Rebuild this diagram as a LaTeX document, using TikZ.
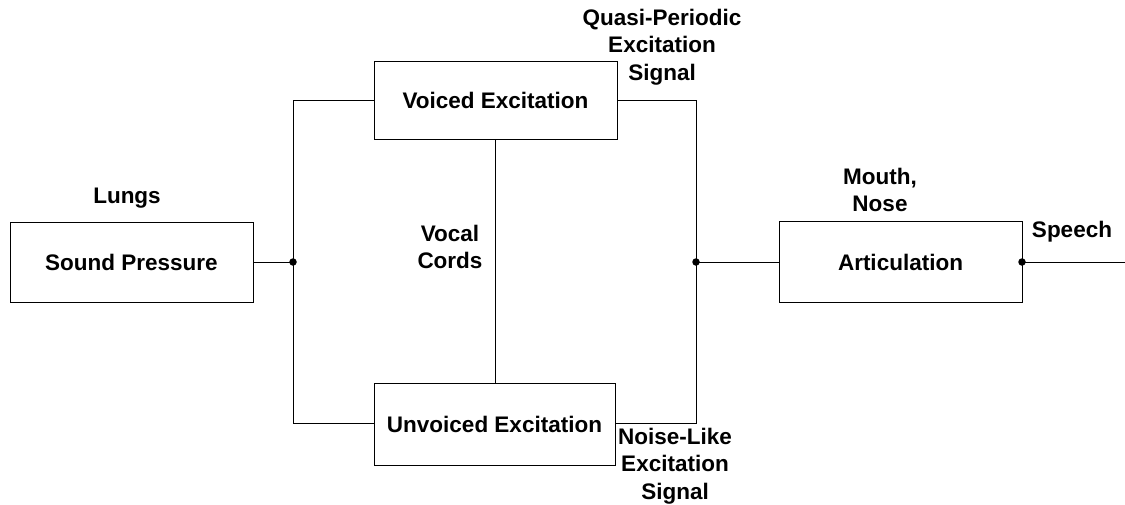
\documentclass[tikz,border=0pt]{standalone}
\usepackage{fontspec}
\setmainfont{Liberation Sans}
\begin{document}
\begin{tikzpicture}[x=1pt,y=-1pt,
  blk/.style={draw, line width=0.9pt, minimum width=243pt, minimum height=80pt, inner sep=0pt, font=\fontsize{22.5}{26}\selectfont\bfseries},
  lbl/.style={align=center, inner sep=0pt, font=\fontsize{22.5}{27.5}\selectfont\bfseries},
  wire/.style={line width=0.9pt},
  dot/.style={circle, fill=black, inner sep=0pt, minimum size=7.5pt}]
\useasboundingbox (0,0) rectangle (1125,504);
\node[blk] (sp) at (131.5,262) {Sound Pressure};
\node[blk, minimum height=78pt] (ve) at (495.5,100) {Voiced Excitation};
\node[blk, minimum width=241pt, minimum height=82pt] (ue) at (494.5,424) {Unvoiced Excitation};
\node[blk, minimum height=81pt] (ar) at (900.5,262) {Articulation};
\node[dot] (j1) at (293,262) {};
\node[dot] (j2) at (696,262) {};
\node[dot] (j3) at (1022,262) {};
\coordinate (lt) at (293,100);
\coordinate (lb) at (293,423);
\coordinate (rt) at (696,100);
\coordinate (rb) at (696,423);
\coordinate (out) at (1125,262);
\draw[wire] (sp.east) -- (j1.center);
\draw[wire] (lt) -- (lb);
\draw[wire] (lt) -- (ve.west);
\draw[wire] (lb) -- (ue.west |- lb);
\draw[wire] (ve.east) -- (rt) -- (rb) -- (ue.east |- rb);
\draw[wire] (ve.south) -- (ue.north -| ve.south);
\draw[wire] (j2.center) -- (ar.west);
\draw[wire] (j3.center) -- (out);
\node[lbl] (l1) at (127,198) {Lungs};
\node[lbl] (l2) at (450,247) {Vocal\\Cords};
\node[lbl] (l3) at (662,47) {Quasi-Periodic\\Excitation\\Signal};
\node[lbl] (l4) at (880,190) {Mouth,\\Nose};
\node[lbl] (l5) at (1072,232) {Speech};
\node[lbl] (l6) at (675,466) {Noise-Like\\Excitation\\Signal};
\end{tikzpicture}
\end{document}
